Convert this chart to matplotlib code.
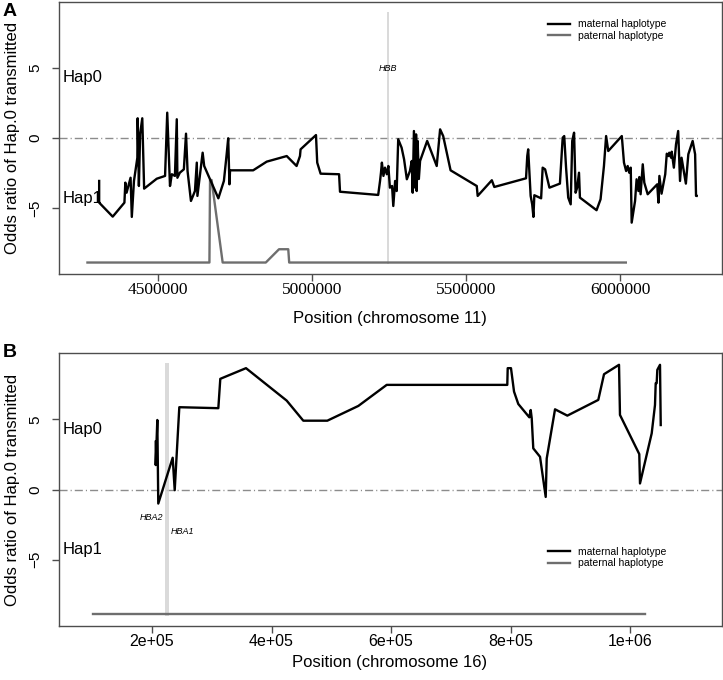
import numpy as np
import matplotlib.pyplot as plt
from matplotlib.ticker import FixedLocator

plt.rcParams['font.family'] = ['Liberation Sans', 'DejaVu Sans']

# ---- panel A: chromosome 11 ----
mat_a_pos = [4308000, 4308000, 4352000, 4390000, 4393000, 4397000, 4410000, 4414000,
             4421000, 4432000, 4433000, 4437000, 4441000, 4448000, 4454000, 4495000,
             4522000, 4529000, 4538000, 4544000, 4554000, 4560000, 4562000, 4570000,
             4583000, 4590000, 4595000, 4606000, 4619000, 4625000, 4627000, 4644000,
             4649000, 4695000, 4713000, 4722000, 4727000, 4731000, 4733000, 4808000,
             4852000, 4917000, 4949000, 4960000, 4962000, 5012000, 5016000, 5027000,
             5087000, 5090000, 5214000, 5220000, 5223000, 5226000, 5231000, 5236000,
             5242000, 5247000, 5252000, 5259000, 5263000, 5269000, 5274000, 5279000,
             5290000, 5298000, 5307000, 5317000, 5323000, 5326000, 5330000, 5334000,
             5337000, 5339000, 5342000, 5346000, 5350000, 5373000, 5404000, 5415000,
             5425000, 5449000, 5534000, 5537000, 5583000, 5591000, 5694000, 5698000,
             5701000, 5705000, 5709000, 5714000, 5718000, 5721000, 5743000, 5748000,
             5756000, 5770000, 5804000, 5813000, 5818000, 5824000, 5831000, 5839000,
             5844000, 5850000, 5855000, 5860000, 5866000, 5869000, 5923000, 5936000,
             5947000, 5954000, 5961000, 6005000, 6012000, 6019000, 6024000, 6029000,
             6034000, 6037000, 6048000, 6053000, 6059000, 6062000, 6066000, 6073000,
             6078000, 6089000, 6120000, 6124000, 6127000, 6134000, 6146000, 6151000,
             6156000, 6159000, 6165000, 6167000, 6174000, 6181000, 6188000, 6194000,
             6199000, 6213000, 6221000, 6235000, 6243000, 6246000, 6248000]
mat_a_or = [-3.07, -4.62, -5.62, -4.62, -3.19, -3.91, -2.84, -5.64,
            -3.07, -1.41, 1.41, -3.43, 0.29, 1.41, -3.62, -2.91,
            -2.71, 1.81, -3.43, -2.59, -2.71, 1.34, -2.84, -2.48,
            -2.24, 0.31, -2.36, -4.50, -3.79, -1.76, -4.14, -1.05,
            -2.00, -4.31, -3.07, -1.16, -0.02, -3.31, -2.31, -2.31,
            -1.69, -1.29, -2.00, -1.29, -0.81, 0.21, -1.76, -2.55,
            -2.59, -3.84, -4.07, -3.07, -2.48, -1.76, -2.71, -2.12,
            -2.59, -2.00, -3.55, -3.43, -4.86, -3.07, -3.79, -0.09,
            -0.69, -1.52, -2.95, -2.36, -1.64, -3.91, 0.50, -3.55,
            0.26, -3.79, -0.21, -2.93, -1.64, -0.21, -2.00, 0.62,
            0.14, -2.31, -3.43, -4.14, -3.02, -3.50, -2.88, -1.29,
            -0.81, -2.48, -4.14, -4.74, -5.64, -4.09, -4.31, -2.12,
            -2.24, -3.55, -3.26, 0.02, 0.14, -2.12, -4.26, -4.74,
            -0.21, 0.38, -3.91, -3.55, -2.48, -4.26, -5.16, -4.38,
            -2.00, 0.14, -0.93, 0.14, -1.76, -2.36, -2.00, -2.48,
            -2.12, -6.05, -4.50, -2.95, -3.79, -2.79, -4.02, -1.88,
            -3.19, -4.02, -3.31, -4.62, -2.71, -3.98, -2.59, -1.12,
            -1.29, -1.05, -1.41, -0.98, -2.12, -0.45, 0.50, -3.07,
            -1.41, -3.26, -1.16, -0.21, -1.16, -4.14, -4.14]
pat_a_pos = [4270000, 4666000, 4668000, 4673000, 4709000, 4849000, 4892000, 4922000,
             4925000, 6018000]
pat_a_or = [-8.9, -8.9, -3.0, -3.0, -8.9, -8.9, -7.95, -7.95, -8.9, -8.9]
genes_a = ['HBB']
genes_a_pos = [5247000]

# ---- panel B: chromosome 16 ----
mat_b_pos = [206200, 206200, 208900, 210500, 234600, 238000, 245700, 311000,
             314300, 319300, 357300, 425400, 453200, 493400, 545300, 592800,
             794600, 795300, 800800, 805900, 813000, 831500, 833800, 835500,
             838100, 849400, 858900, 860600, 874500, 895100, 946900, 956500,
             981600, 983200, 1015500, 1016700, 1036300, 1041800, 1043000, 1044600,
             1045700, 1050200, 1051400]
mat_b_or = [3.40, 1.74, 4.95, -1.00, 2.26, -0.05, 5.86, 5.79,
            7.88, 7.97, 8.64, 6.33, 4.90, 4.90, 5.95, 7.45,
            7.45, 8.64, 8.64, 6.97, 6.09, 5.14, 5.66, 5.07,
            2.93, 2.33, -0.53, 2.21, 5.71, 5.26, 6.38, 8.21,
            8.88, 5.31, 2.52, 0.43, 4.00, 6.02, 7.57, 7.57,
            8.52, 8.88, 4.59]
pat_b_pos = [102000, 1025000]
pat_b_or = [-8.9, -8.9]
genes_b = ['HBA2', 'HBA1']
genes_b_pos = [222800, 226700]

fig = plt.figure(figsize=(7.23, 6.8), dpi=100)
axA = fig.add_axes([59 / 723, 1 - 274 / 680, 663 / 723, 272 / 680])
axB = fig.add_axes([59 / 723, 1 - 626 / 680, 663 / 723, 273 / 680])

spine_col = '#4d4d4d'
dotdash = (0, (5.8, 2.2, 0.8, 2.2))


def style_axes(ax):
    for s in ax.spines.values():
        s.set_color(spine_col)
        s.set_linewidth(1.0)
    ax.set_ylim(-9.72, 9.72)
    ax.yaxis.set_major_locator(FixedLocator([-5, 0, 5]))
    ax.set_yticklabels(['\u22125', '0', '5'], rotation=90, va='center', fontsize=11)
    ax.tick_params(axis='both', color=spine_col, length=5, width=1.0)
    ax.tick_params(axis='y', pad=7)
    ax.tick_params(axis='x', pad=1)
    ax.axhline(0, color='#8c8c8c', lw=1.0, linestyle=dotdash, zorder=1)
    ax.text(0.006, 4.3, 'Hap0', transform=ax.get_yaxis_transform(), fontsize=12,
            va='center', ha='left')
    ax.text(0.006, -4.3, 'Hap1', transform=ax.get_yaxis_transform(), fontsize=12,
            va='center', ha='left')


# panel A
style_axes(axA)
axA.set_xlim(4177600, 6330300)
axA.vlines(genes_a_pos, -9, 9, color='#cfcfcf', lw=1.1, zorder=2)
for g, p in zip(genes_a, genes_a_pos):
    axA.text(p, 5, g, fontsize=6.5, style='italic', ha='center', va='center')
mA, = axA.plot(mat_a_pos, mat_a_or, color='black', lw=1.7, zorder=4)
pA, = axA.plot(pat_a_pos, pat_a_or, color='#6e6e6e', lw=1.7, zorder=3)
axA.xaxis.set_major_locator(FixedLocator([4500000, 5000000, 5500000, 6000000]))
axA.set_xticklabels(['4500000', '5000000', '5500000', '6000000'],
                    fontsize=12.5, family='Liberation Serif')
axA.legend([mA, pA], ['maternal haplotype', 'paternal haplotype'], frameon=False,
           fontsize=7.5, loc='upper left', bbox_to_anchor=(0.7376, 0.9357),
           borderpad=0, borderaxespad=0, handlelength=2.1, handletextpad=0.8,
           labelspacing=0.15)

# panel B
style_axes(axB)
axB.set_xlim(44350, 1153950)
axB.vlines(genes_b_pos, -9, 9, color='#cfcfcf', lw=1.1, zorder=2)
axB.annotate(genes_b[0], (genes_b_pos[0], -2.0), xytext=(-2, 0), textcoords='offset points',
             fontsize=6.5, style='italic', ha='right', va='center')
axB.annotate(genes_b[1], (genes_b_pos[1], -3.0), xytext=(2, 0), textcoords='offset points',
             fontsize=6.5, style='italic', ha='left', va='center')
mB, = axB.plot(mat_b_pos, mat_b_or, color='black', lw=1.7, zorder=4)
pB, = axB.plot(pat_b_pos, pat_b_or, color='#6e6e6e', lw=1.7, zorder=3)
axB.xaxis.set_major_locator(FixedLocator([200000, 400000, 600000, 800000, 1000000]))
axB.set_xticklabels(['2e+05', '4e+05', '6e+05', '8e+05', '1e+06'], fontsize=11.5)
axB.legend([mB, pB], ['maternal haplotype', 'paternal haplotype'], frameon=False,
           fontsize=7.5, loc='upper left', bbox_to_anchor=(0.7376, 0.29),
           borderpad=0, borderaxespad=0, handlelength=2.1, handletextpad=0.8,
           labelspacing=0.15)

# axis titles and panel letters
fig.text(390 / 723, 1 - 318 / 680, 'Position (chromosome 11)', ha='center', va='center', fontsize=12)
fig.text(390 / 723, 1 - 663 / 680, 'Position (chromosome 16)', ha='center', va='center', fontsize=12)
fig.text(13 / 723, 1 - 138 / 680, 'Odds ratio of Hap.0 transmitted', rotation=90,
         ha='center', va='center', fontsize=12)
fig.text(13 / 723, 1 - 490 / 680, 'Odds ratio of Hap.0 transmitted', rotation=90,
         ha='center', va='center', fontsize=12)
fig.text(3 / 723, 1 - 11 / 680, 'A', fontsize=14, fontweight='bold', ha='left', va='center')
fig.text(3 / 723, 1 - 352 / 680, 'B', fontsize=14, fontweight='bold', ha='left', va='center')

fig.savefig('out.png', dpi=100)
